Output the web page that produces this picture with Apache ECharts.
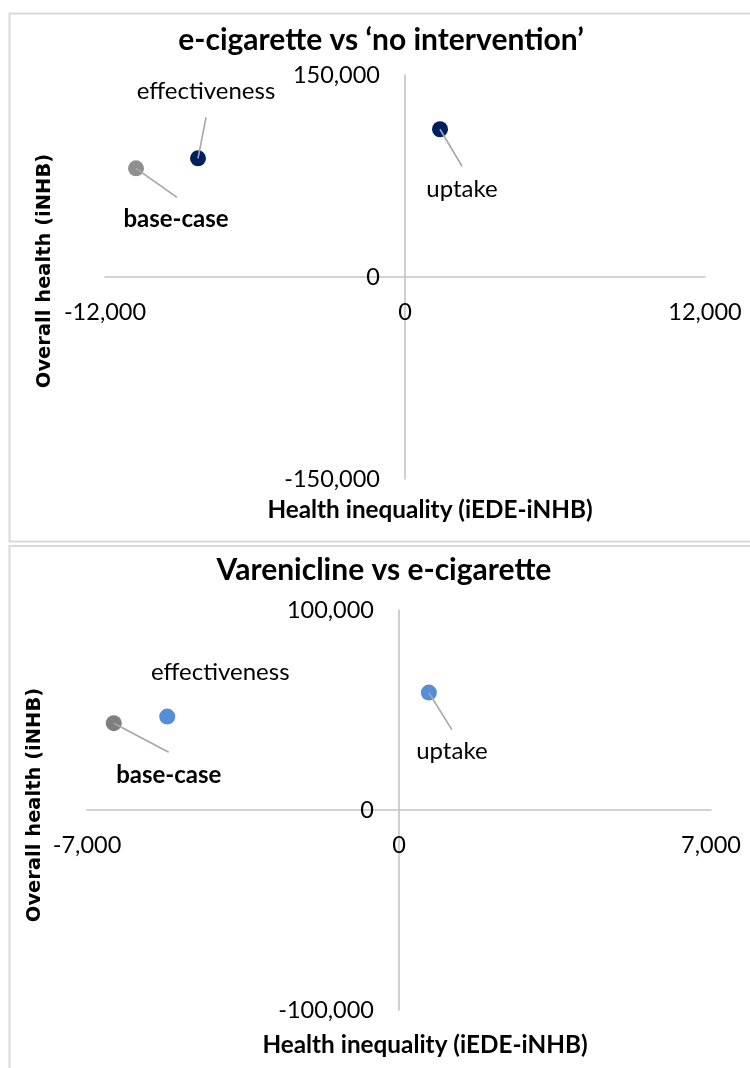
<!DOCTYPE html>
<html><head><meta charset="utf-8">
<script src="https://cdn.jsdelivr.net/npm/echarts@6/dist/echarts.min.js"></script>
<style>html,body{margin:0;padding:0;background:#fff}#c{width:750px;height:1068px}</style>
</head><body><div id="c"></div>
<script>
// ---- data ----
const scenarios = ['base-case', 'effectiveness', 'uptake'];
const ecigX = [-10760, -8280, 1400];      // Health inequality (iEDE-iNHB)
const ecigY = [80700, 88100, 109700];     // Overall health (iNHB)
const vareX = [-6400, -5200, 670];
const vareY = [43400, 46700, 58700];
const ecigXTicks = [-12000, 0, 12000];
const ecigYTicks = [-150000, 0, 150000];
const vareXTicks = [-7000, 0, 7000];
const vareYTicks = [-100000, 0, 100000];
const titles = ['e-cigarette vs \u2018no intervention\u2019', 'Varenicline vs e-cigarette'];
const xTitle = 'Health inequality (iEDE-iNHB)';
const yTitle = 'Overall health (iNHB)';

// ---- styling / layout (not data) ----
const FONT = 'Lato, "Open Sans", sans-serif';
const colors1 = ['#8f8f8f', '#002060', '#002060'];
const colors2 = ['#7f7f7f', '#558ED5', '#558ED5'];
const labelOff1 = [[40, 51], [8, -67], [22, 60]];
const lineOff1 = [[41, 29], [8, -41], [22, 37]];
const labelOff2 = [[55, 52], [53, -44], [23, 59]];
const lineOff2 = [[55, 29], null, [23, 37]];
const grids = [
  { left: 105, top: 75, width: 600, height: 404 },
  { left: 87, top: 610, width: 624, height: 400 }
];

const fmt = v => Number(v).toLocaleString('en-US');

function scatterData(xs, ys, cols, offs) {
  return xs.map((x, i) => ({
    name: scenarios[i],
    value: [x, ys[i]],
    itemStyle: { color: cols[i], opacity: 1 },
    label: { offset: offs[i], color: '#000',
             fontWeight: scenarios[i] === 'base-case' ? 'bold' : 'normal' }
  }));
}
function leaderSeries(xs, ys, offs, idx) {
  return {
    type: 'custom', xAxisIndex: idx, yAxisIndex: idx, z: 5, silent: true,
    data: xs.map((x, i) => [x, ys[i], i]),
    renderItem: function (params, api) {
      const i = api.value(2);
      const o = offs[i];
      if (!o) return null;
      const p = api.coord([api.value(0), api.value(1)]);
      return { type: 'line', shape: { x1: p[0], y1: p[1], x2: p[0] + o[0], y2: p[1] + o[1] },
        style: { stroke: '#a6a6a6', lineWidth: 1.6 } };
    }
  };
}
// axes are shifted (offset) so that they, and their labels, sit on the zero line
function xAxis(ticks, idx) {
  const min = ticks[0], max = ticks[ticks.length - 1];
  return {
    type: 'value', gridIndex: idx, min: min, max: max, interval: ticks[1] - ticks[0],
    position: 'bottom', offset: -grids[idx].height * (0 - min) / (max - min),
    axisLine: { show: true, onZero: false, lineStyle: { color: '#c4c4c4', width: 1.6 } },
    axisTick: { show: false }, splitLine: { show: false },
    axisLabel: { margin: 23, fontFamily: FONT, fontSize: 23.5, color: '#000', formatter: fmt }
  };
}
function yAxis(ticks, idx) {
  const min = ticks[0], max = ticks[ticks.length - 1];
  const xt = idx === 0 ? ecigXTicks : vareXTicks;
  const xmin = xt[0], xmax = xt[xt.length - 1];
  return {
    type: 'value', gridIndex: idx, min: min, max: max, interval: ticks[1] - ticks[0],
    position: 'left', offset: -grids[idx].width * (0 - xmin) / (xmax - xmin),
    axisLine: { show: true, onZero: false, lineStyle: { color: '#c4c4c4', width: 1.6 } },
    axisTick: { show: false }, splitLine: { show: false },
    axisLabel: { margin: 25, fontFamily: FONT, fontSize: 23.5, color: '#000', formatter: fmt }
  };
}
const scatterBase = {
  type: 'scatter', symbol: 'circle', symbolSize: 16, z: 3,
  itemStyle: { opacity: 1 },
  label: { show: true, position: 'inside', formatter: p => p.name, color: '#000',
           fontFamily: FONT, fontSize: 24, textBorderWidth: 0 }
};
function txt(text, x, y, size, family, rot) {
  return { type: 'text', x: x, y: y, rotation: rot || 0,
    style: { text: text, fontFamily: family || FONT, fontWeight: 'bold', fontSize: size,
             fill: '#000', textAlign: 'center', textVerticalAlign: 'middle' } };
}

const chart = echarts.init(document.getElementById('c'), null, { renderer: 'canvas' });
chart.setOption({
  animation: false,
  backgroundColor: '#fff',
  grid: grids.map(g => Object.assign({ containLabel: false, outerBoundsMode: 'none' }, g)),
  xAxis: [xAxis(ecigXTicks, 0), xAxis(vareXTicks, 1)],
  yAxis: [yAxis(ecigYTicks, 0), yAxis(vareYTicks, 1)],
  graphic: [
    { type: 'rect', shape: { x: 9.5, y: 13.5, width: 760, height: 528 }, style: { fill: 'none', stroke: '#d9d9d9', lineWidth: 2 }, z: -10 },
    { type: 'rect', shape: { x: 9.5, y: 546, width: 760, height: 560 }, style: { fill: 'none', stroke: '#d9d9d9', lineWidth: 2 }, z: -10 },
    txt(titles[0], 381, 40, 30),
    txt(titles[1], 384, 570, 30),
    txt(xTitle, 430, 510, 24.3),
    txt(xTitle, 425, 1045, 24.3),
    txt(yTitle, 45, 271, 19.5, '"DejaVu Sans", sans-serif', Math.PI / 2),
    txt(yTitle, 35, 805, 19.5, '"DejaVu Sans", sans-serif', Math.PI / 2)
  ],
  series: [
    Object.assign({}, scatterBase, { xAxisIndex: 0, yAxisIndex: 0, data: scatterData(ecigX, ecigY, colors1, labelOff1) }),
    Object.assign({}, scatterBase, { xAxisIndex: 1, yAxisIndex: 1, data: scatterData(vareX, vareY, colors2, labelOff2) }),
    leaderSeries(ecigX, ecigY, lineOff1, 0),
    leaderSeries(vareX, vareY, lineOff2, 1)
  ]
});
</script></body></html>
